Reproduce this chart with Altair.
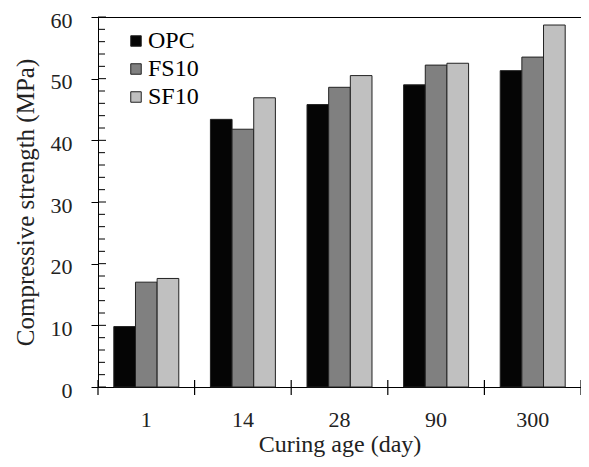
import altair as alt
import pandas as pd

ages = ["1", "14", "28", "90", "300"]
series = ["OPC", "FS10", "SF10"]
opc = [9.8, 43.4, 45.8, 49.0, 51.3]
fs10 = [17.0, 41.8, 48.6, 52.2, 53.5]
sf10 = [17.6, 46.9, 50.5, 52.5, 58.7]
colors = ["#050505", "#808080", "#c0c0c0"]
major_ticks = [0, 10, 20, 30, 40, 50, 60]
minor_ticks = [v for v in range(2, 60, 2) if v % 10 != 0]

FONT = "Liberation Serif"
W, H = 483, 370

rows = []
for i, a in enumerate(ages):
    for s, vals in zip(series, [opc, fs10, sf10]):
        rows.append({"age": a, "series": s, "value": vals[i]})
df = pd.DataFrame(rows)

xscale = alt.Scale(domain=ages, paddingInner=0, paddingOuter=0)
yscale = alt.Scale(domain=[0, 60], nice=False)
xaxis = alt.Axis(title="Curing age  (day)", labelAngle=0, ticks=False, tickSize=0,
                 domain=False, labelPadding=22, titlePadding=2, titleFontSize=24)
yaxis = alt.Axis(title="Compressive strength (MPa)", values=major_ticks,
                 tickSize=7, labelPadding=19, labelOffset=3, titlePadding=12,
                 domainColor="#000", tickColor="#000", grid=False)

bars = alt.Chart(df).mark_bar(stroke="#222222", strokeWidth=1).encode(
    x=alt.X("age:N", sort=ages, scale=xscale, axis=xaxis),
    xOffset=alt.XOffset("series:N", sort=series,
                        scale=alt.Scale(paddingInner=0, paddingOuter=0.73)),
    y=alt.Y("value:Q", scale=yscale, axis=yaxis),
    color=alt.Color("series:N", sort=series,
                    scale=alt.Scale(domain=series, range=colors),
                    legend=alt.Legend(title=None, orient="none", legendX=26, legendY=12,
                                      symbolType="square", symbolSize=110,
                                      symbolStrokeColor="#222222", symbolStrokeWidth=1,
                                      labelFont=FONT, labelFontSize=24, labelColor="#000",
                                      rowPadding=4, labelOffset=0, padding=0)),
)

tick_df = pd.DataFrame({"age": ages})
xticks = alt.Chart(tick_df).mark_rule(color="#000", strokeWidth=1.2).encode(
    x=alt.X("age:N", sort=ages, scale=xscale, bandPosition=0, axis=xaxis),
    y=alt.value(H - 7), y2=alt.value(H + 8),
)
xticks_last = alt.Chart(pd.DataFrame({"age": [ages[-1]]})).mark_rule(color="#000", strokeWidth=1.2).encode(
    x=alt.X("age:N", sort=ages, scale=xscale, bandPosition=1, axis=xaxis),
    y=alt.value(H - 7), y2=alt.value(H + 8),
)

ymajor_in = alt.Chart(pd.DataFrame({"value": major_ticks})).mark_rule(color="#000").encode(
    y=alt.Y("value:Q", scale=yscale, axis=yaxis),
    x=alt.value(0), x2=alt.value(8),
)
yminor = alt.Chart(pd.DataFrame({"value": minor_ticks})).mark_rule(color="#000").encode(
    y=alt.Y("value:Q", scale=yscale, axis=yaxis),
    x=alt.value(0), x2=alt.value(7),
)

chart = alt.layer(bars, xticks, xticks_last, ymajor_in, yminor).properties(
    width=W, height=H,
    autosize=alt.AutoSizeParams(type="none"),
    padding={"left": 90, "top": 9, "right": 0, "bottom": 71},
).configure(font=FONT).configure_view(stroke="#000", strokeWidth=1).configure_axis(
    labelFont=FONT, titleFont=FONT, labelFontSize=22, titleFontSize=25,
    labelColor="#222", titleColor="#222", titleFontWeight="normal",
)

chart.save("out.html", embed_options={"renderer": "svg", "actions": False})
